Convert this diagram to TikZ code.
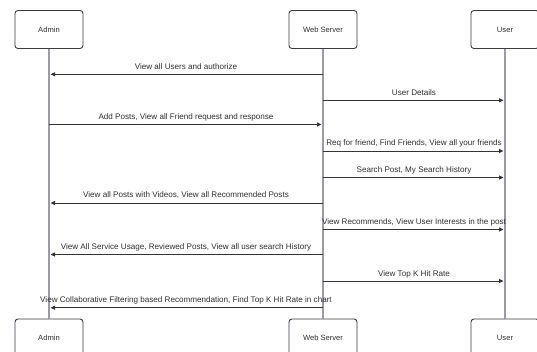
\documentclass[tikz,border=0pt]{standalone}
\usepackage{fontspec}
\setmainfont{Liberation Sans}
\usetikzlibrary{arrows.meta}
\definecolor{boxc}{HTML}{3A3A44}
\definecolor{lifec}{HTML}{9C9AA6}
\definecolor{arrc}{HTML}{33333A}
\definecolor{txt}{HTML}{2E2E33}
\begin{document}
\begin{tikzpicture}[x=1pt,y=-1pt,
  actor/.style={draw=boxc, fill=white, rounded corners=3pt, minimum width=68pt, minimum height=38pt, line width=0.9pt, font=\fontsize{7.6}{9}\selectfont, text=txt, inner sep=0pt},
  life/.style={draw=lifec, line width=1.4pt},
  msg/.style={draw=arrc, line width=0.9pt, -{Triangle[length=4.5pt,width=4pt]}, shorten >=1.5pt},
  lbl/.style={font=\fontsize{8.1}{9.5}\selectfont, text=txt, inner sep=0pt, anchor=base}]
\useasboundingbox (0,0) rectangle (537,352);
\clip (0,0) rectangle (537,352);
% actors
\node[actor] (ad) at (49,29.5) {Admin};
\node[actor] (ws) at (323,29.5) {Web Server};
\node[actor] (us) at (505,29.5) {User};
\node[actor] (ad2) at (49,338) {Admin};
\node[actor] (ws2) at (323,338) {Web Server};
\node[actor] (us2) at (505,338) {User};
% lifelines
\draw[life] (ad.south) -- (ad2.north);
\draw[life] (ws.south) -- (ws2.north);
\draw[life] (us.south) -- (us2.north);
% messages
\draw[msg] (ws |- 0,74.3) -- node[lbl, yshift=5pt] {View all Users and authorize} (ad |- 0,74.3);
\draw[msg] (ws |- 0,100.3) -- node[lbl, yshift=5pt] {User Details} (us |- 0,100.3);
\draw[msg] (ad |- 0,124.5) -- node[lbl, yshift=5pt] {Add Posts, View all Friend request and response} (ws |- 0,124.5);
\draw[msg] (ws |- 0,151) -- node[lbl, yshift=5pt] {Req for friend, Find Friends, View all your friends} (us |- 0,151);
\draw[msg] (ws |- 0,177.5) -- node[lbl, yshift=5pt] {Search Post, My Search History} (us |- 0,177.5);
\draw[msg] (ws |- 0,203) -- node[lbl, yshift=5pt] {View all Posts with Videos, View all Recommended Posts} (ad |- 0,203);
\draw[msg] (ws |- 0,229.5) -- node[lbl, yshift=5pt] {View Recommends, View User Interests in the post} (us |- 0,229.5);
\draw[msg] (ws |- 0,254.5) -- node[lbl, yshift=5pt] {View All Service Usage, Reviewed Posts, View all user search History} (ad |- 0,254.5);
\draw[msg] (ws |- 0,281) -- node[lbl, yshift=5pt] {View Top K Hit Rate} (us |- 0,281);
\draw[msg] (ws |- 0,307.7) -- node[lbl, yshift=5pt] {View Collaborative Filtering based Recommendation, Find Top K Hit Rate in chart} (ad |- 0,307.7);
\end{tikzpicture}
\end{document}
